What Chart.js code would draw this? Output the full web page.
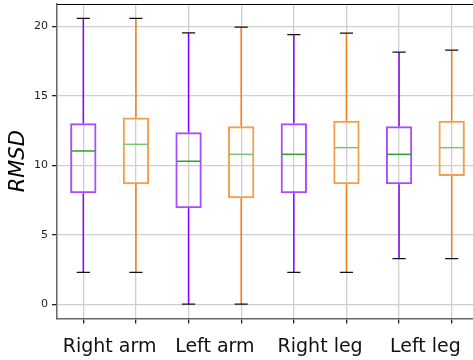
<!DOCTYPE html>
<html>
<head>
<meta charset="utf-8">
<script src="https://cdn.jsdelivr.net/npm/chart.js@4/dist/chart.umd.min.js"></script>
<style>
  html, body { margin: 0; padding: 0; background: #fff; overflow: hidden; }
  #wrap { width: 480px; height: 360px; }
</style>
</head>
<body>
<div id="wrap"><canvas id="c" width="480" height="360"></canvas></div>
<script>
// Limb groups, each holding two boxes side by side
const groups = ['Right arm', 'Left arm', 'Right leg', 'Left leg'];
const posA = [1, 3, 5, 7];
const posB = [2, 4, 6, 8];

// First series (violet): whisker ends, quartiles and medians
const lowA  = [2.29, 0.00, 2.29, 3.28];
const q1A   = [7.99, 6.91, 7.99, 8.64];
const medA  = [11.04, 10.30, 10.80, 10.80];
const q3A   = [13.03, 12.39, 13.03, 12.82];
const highA = [20.60, 19.55, 19.43, 18.16];

// Second series (orange)
const lowB  = [2.29, 0.00, 2.29, 3.28];
const q1B   = [8.64, 7.63, 8.64, 9.24];
const medB  = [11.52, 10.80, 11.28, 11.28];
const q3B   = [13.45, 12.82, 13.21, 13.21];
const highB = [20.60, 19.96, 19.53, 18.30];

const yTicks = [0, 5, 10, 15, 20];
const groupTickPos = [1.5, 3.5, 5.5, 7.5];

const series = [
  { pos: posA, low: lowA, q1: q1A, med: medA, q3: q3A, high: highA,
    whisker: '#8800ff', box: '#a64dff', median: '#33a02c' },
  { pos: posB, low: lowB, q1: q1B, med: medB, q3: q3B, high: highB,
    whisker: '#f08214', box: '#f2a04a', median: '#7cc576' }
];

const allVals = [].concat(lowA, highA, lowB, highB);
const vMin = Math.min(...allVals), vMax = Math.max(...allVals);
const pad = 0.05 * (vMax - vMin);

// Whiskers, caps and median lines on top of the boxes
const boxExtras = {
  id: 'boxExtras',
  afterDatasetsDraw(chart) {
    const ctx = chart.ctx, x = chart.scales.x, y = chart.scales.y;
    ctx.save();
    ctx.lineCap = 'butt';
    series.forEach(s => {
      s.pos.forEach((p, i) => {
        const cx = x.getPixelForValue(p);
        const capL = x.getPixelForValue(p - 0.125), capR = x.getPixelForValue(p + 0.125);
        const boxL = x.getPixelForValue(p - 0.25), boxR = x.getPixelForValue(p + 0.25);
        ctx.strokeStyle = s.whisker; ctx.lineWidth = 1.5;
        ctx.beginPath();
        ctx.moveTo(cx, y.getPixelForValue(s.q3[i])); ctx.lineTo(cx, y.getPixelForValue(s.high[i]));
        ctx.moveTo(cx, y.getPixelForValue(s.q1[i])); ctx.lineTo(cx, y.getPixelForValue(s.low[i]));
        ctx.stroke();
        ctx.strokeStyle = '#111'; ctx.lineWidth = 1.3;
        ctx.beginPath();
        ctx.moveTo(capL, y.getPixelForValue(s.high[i])); ctx.lineTo(capR, y.getPixelForValue(s.high[i]));
        ctx.moveTo(capL, y.getPixelForValue(s.low[i])); ctx.lineTo(capR, y.getPixelForValue(s.low[i]));
        ctx.stroke();
        ctx.strokeStyle = s.median; ctx.lineWidth = 1.5;
        ctx.beginPath();
        ctx.moveTo(boxL + 1, y.getPixelForValue(s.med[i])); ctx.lineTo(boxR - 1, y.getPixelForValue(s.med[i]));
        ctx.stroke();
      });
    });
    // top frame line
    const a = chart.chartArea;
    ctx.strokeStyle = '#000'; ctx.lineWidth = 1;
    ctx.beginPath(); ctx.moveTo(a.left, a.top + 0.5); ctx.lineTo(a.right, a.top + 0.5); ctx.stroke();
    ctx.restore();
  }
};

const boxDataset = (s) => ({
  type: 'bar',
  data: s.pos.map((p, i) => ({ x: p, y: [s.q1[i], s.q3[i]] })),
  backgroundColor: 'rgba(0,0,0,0)',
  borderColor: s.box,
  borderWidth: 2,
  borderSkipped: false,
  grouped: false,
  barPercentage: 0.5,
  categoryPercentage: 1.0
});

new Chart(document.getElementById('c'), {
  type: 'bar',
  data: { datasets: series.map(boxDataset) },
  options: {
    responsive: false,
    animation: false,
    devicePixelRatio: 1,
    layout: { padding: { top: 4, right: 2, left: 0, bottom: 0 } },
    plugins: { legend: { display: false }, tooltip: { enabled: false } },
    scales: {
      x: {
        type: 'linear', position: 'bottom', min: 0.5, max: 8.5, offset: false,
        afterBuildTicks: sc => { sc.ticks = [1,2,3,4,5,6,7,8].map(v => ({ value: v })); },
        afterFit: sc => { sc.height = 6; sc.paddingLeft = 0; sc.paddingRight = 0; },
        ticks: { callback: () => '', font: { size: 1 } },
        grid: { offset: false, color: '#cfcfcf', lineWidth: 1.3, tickColor: '#222', tickLength: 5 },
        border: { color: '#666', width: 1.5 }
      },
      x2: {
        type: 'linear', position: 'bottom', min: 0.5, max: 8.5, offset: false,
        afterBuildTicks: sc => { sc.ticks = groupTickPos.map(v => ({ value: v })); },
        afterFit: sc => { sc.height = 35.5; sc.paddingLeft = 0; sc.paddingRight = 0; },
        ticks: {
          callback: (v) => { const k = groupTickPos.indexOf(v); return k >= 0 ? groups[k] : ''; },
          font: { family: 'DejaVu Sans', size: 19 }, color: '#111', padding: 11, maxRotation: 0, autoSkip: false
        },
        grid: { display: false, drawTicks: false, offset: false },
        border: { display: false }
      },
      y: {
        min: vMin - pad, max: vMax + pad,
        afterBuildTicks: sc => { sc.ticks = yTicks.map(v => ({ value: v })); },
        afterFit: sc => { sc.width = 57; sc.paddingTop = 0; sc.paddingBottom = 0; },
        ticks: { font: { family: 'DejaVu Sans', size: 11 }, color: '#222', padding: 4 },
        grid: { color: '#cfcfcf', lineWidth: 1.3, tickColor: '#222', tickLength: 5 },
        border: { color: '#666', width: 1.5 },
        title: { display: true, text: 'RMSD', color: '#000', padding: { top: 6, bottom: 0 },
                 font: { family: 'DejaVu Sans', size: 21, style: 'italic' } }
      }
    }
  },
  plugins: [boxExtras]
});
</script>
</body>
</html>
